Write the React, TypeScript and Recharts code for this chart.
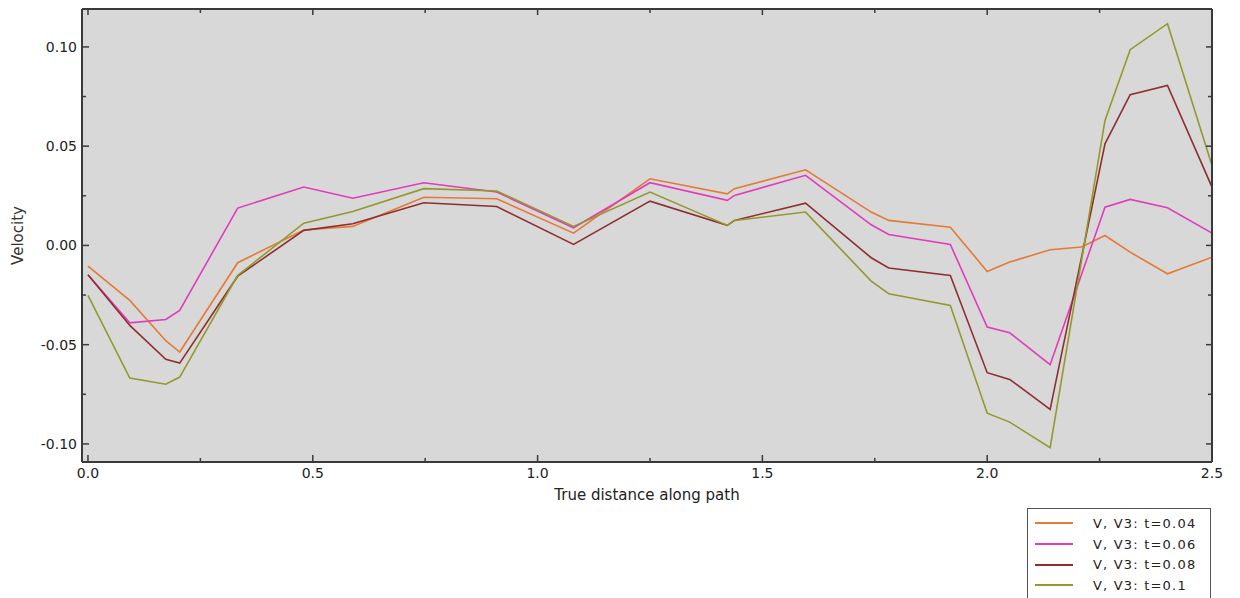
import { LineChart, Line, XAxis, YAxis, CartesianGrid, Legend } from 'recharts';

// distance along path (x) and velocity for each time step
const dist = [0, 0.093, 0.173, 0.204, 0.333, 0.48, 0.589, 0.747, 0.909, 1.08, 1.25, 1.422, 1.438, 1.596, 1.742, 1.781, 1.918, 2.0, 2.05, 2.14, 2.21, 2.262, 2.318, 2.401, 2.5];

const v004 = [-0.0104, -0.0277, -0.048, -0.0537, -0.0087, 0.0078, 0.0096, 0.0243, 0.0235, 0.0062, 0.0336, 0.026, 0.0286, 0.0381, 0.0168, 0.0126, 0.0092, -0.0131, -0.0084, -0.0022, -0.0008, 0.005, -0.0034, -0.0143, -0.0059];
const v006 = [-0.0148, -0.039, -0.0373, -0.0327, 0.0188, 0.0294, 0.0238, 0.0316, 0.0269, 0.0089, 0.0316, 0.0227, 0.0252, 0.0353, 0.0104, 0.0055, 0.0005, -0.0411, -0.044, -0.0601, null, 0.0193, 0.0232, 0.019, 0.0062];
const v008 = [-0.0148, -0.0403, -0.0574, -0.0593, -0.0155, 0.0076, 0.0109, 0.0215, 0.0196, 0.0005, 0.0223, 0.0101, 0.0126, 0.0213, -0.0062, -0.0114, -0.0151, -0.0641, -0.0675, -0.0826, null, 0.0512, 0.0759, 0.0806, 0.0294];
const v010 = [-0.0252, -0.0668, -0.0699, -0.0663, -0.0151, 0.0112, 0.0171, 0.0286, 0.0274, 0.0096, 0.0269, 0.0101, 0.0126, 0.0168, -0.018, -0.0243, -0.0302, -0.0845, -0.089, -0.1019, null, 0.063, 0.0986, 0.1117, 0.0403];

const xTicks = [0, 0.25, 0.5, 0.75, 1, 1.25, 1.5, 1.75, 2, 2.25, 2.5];
const yTicks = [-0.1, -0.075, -0.05, -0.025, 0, 0.025, 0.05, 0.075, 0.1];

const series = [
  { key: 'a', name: 'V, V3: t=0.04', color: '#E47A35' },
  { key: 'b', name: 'V, V3: t=0.06', color: '#E23BBB' },
  { key: 'c', name: 'V, V3: t=0.08', color: '#8E2F2F' },
  { key: 'e', name: 'V, V3: t=0.1', color: '#939A2C' },
];

const data = dist.map((d, i) => ({ d, a: v004[i], b: v006[i], c: v008[i], e: v010[i] }));

const FONT = 'DejaVu Sans, sans-serif';
const AXIS = '#3a3a3a';

const isMajor = (v: number, step: number) => Math.abs(v / step - Math.round(v / step)) < 1e-6;

const BottomTick = (p: any) => {
  const v = p.payload.value;
  const major = isMajor(v, 0.5);
  return (
    <g>
      <line x1={p.x} y1={p.y} x2={p.x} y2={p.y - (major ? 7 : 4)} stroke={AXIS} strokeWidth={1.5} />
      {major && (
        <text x={p.x} y={p.y + 16} textAnchor="middle" fontSize={14} fontFamily={FONT} fill="#222">
          {v.toFixed(1)}
        </text>
      )}
    </g>
  );
};

const TopTick = (p: any) => {
  const major = isMajor(p.payload.value, 0.5);
  return <line x1={p.x} y1={p.y} x2={p.x} y2={p.y + (major ? 6 : 4)} stroke={AXIS} strokeWidth={1.5} />;
};

const LeftTick = (p: any) => {
  const v = p.payload.value;
  const major = isMajor(v, 0.05);
  return (
    <g>
      <line x1={p.x} y1={p.y} x2={p.x + (major ? 7 : 4)} y2={p.y} stroke={AXIS} strokeWidth={1.5} />
      {major && (
        <text x={p.x - 5} y={p.y + 5} textAnchor="end" fontSize={14} fontFamily={FONT} fill="#222">
          {v.toFixed(2)}
        </text>
      )}
    </g>
  );
};

const RightTick = (p: any) => {
  const major = isMajor(p.payload.value, 0.05);
  return <line x1={p.x} y1={p.y} x2={p.x - (major ? 6 : 4)} y2={p.y} stroke={AXIS} strokeWidth={1.5} />;
};

const LegendBox = () => (
  <div
    style={{
      border: '1px solid #555',
      background: '#fff',
      width: 184,
      height: 96,
      boxSizing: 'border-box',
      paddingTop: 4,
      fontFamily: FONT,
      fontSize: 13,
      letterSpacing: 1.2,
      color: '#222',
    }}
  >
    {series.map((s) => (
      <div key={s.key} style={{ display: 'flex', alignItems: 'center', height: 20.7 }}>
        <div style={{ width: 38, height: 2, background: s.color, marginLeft: 7, marginRight: 20 }} />
        <span>{s.name}</span>
      </div>
    ))}
  </div>
);

export default function App() {
  return (
    <div style={{ position: 'absolute', left: 0, top: 0, background: '#fff' }}>
      <LineChart width={1240} height={598} data={data} margin={{ top: 0, right: 0, bottom: 96, left: 0 }}>
        <CartesianGrid fill="#d8d8d8" stroke="none" horizontal={false} vertical={false} />
        <XAxis
          dataKey="d"
          type="number"
          domain={[-0.0133, 2.5]}
          allowDataOverflow
          ticks={xTicks}
          interval={0}
          height={40}
          tickSize={0}
          tickMargin={0}
          tickLine={false}
          tick={BottomTick}
          axisLine={{ stroke: AXIS, strokeWidth: 2 }}
          label={{ value: 'True distance along path', position: 'insideBottom', offset: 2, fontSize: 15, fontFamily: FONT, fill: '#222' }}
        />
        <XAxis
          xAxisId="top"
          orientation="top"
          dataKey="d"
          type="number"
          domain={[-0.0133, 2.5]}
          allowDataOverflow
          ticks={xTicks}
          interval={0}
          height={9}
          tickSize={0}
          tickMargin={0}
          tickLine={false}
          tick={TopTick}
          axisLine={{ stroke: AXIS, strokeWidth: 2 }}
        />
        <YAxis
          type="number"
          domain={[-0.1091, 0.1191]}
          allowDataOverflow
          ticks={yTicks}
          interval={0}
          width={82}
          tickSize={0}
          tickMargin={0}
          tickLine={false}
          tick={LeftTick}
          axisLine={{ stroke: AXIS, strokeWidth: 2 }}
          label={{ value: 'Velocity', angle: -90, position: 'center', dx: -23, fontSize: 15, fontFamily: FONT, fill: '#333' }}
        />
        <YAxis
          yAxisId="right"
          orientation="right"
          type="number"
          domain={[-0.1091, 0.1191]}
          allowDataOverflow
          ticks={yTicks}
          interval={0}
          width={28}
          tickSize={0}
          tickMargin={0}
          tickLine={false}
          tick={RightTick}
          axisLine={{ stroke: AXIS, strokeWidth: 2 }}
        />
        {series.map((s) => (
          <Line
            key={s.key}
            dataKey={s.key}
            name={s.name}
            stroke={s.color}
            strokeWidth={1.6}
            dot={false}
            connectNulls
            isAnimationActive={false}
          />
        ))}
        <Legend
          layout="vertical"
          align="center"
          verticalAlign="middle"
          content={LegendBox}
          wrapperStyle={{ left: 1027, top: 508, width: 186 }}
        />
      </LineChart>
    </div>
  );
}
